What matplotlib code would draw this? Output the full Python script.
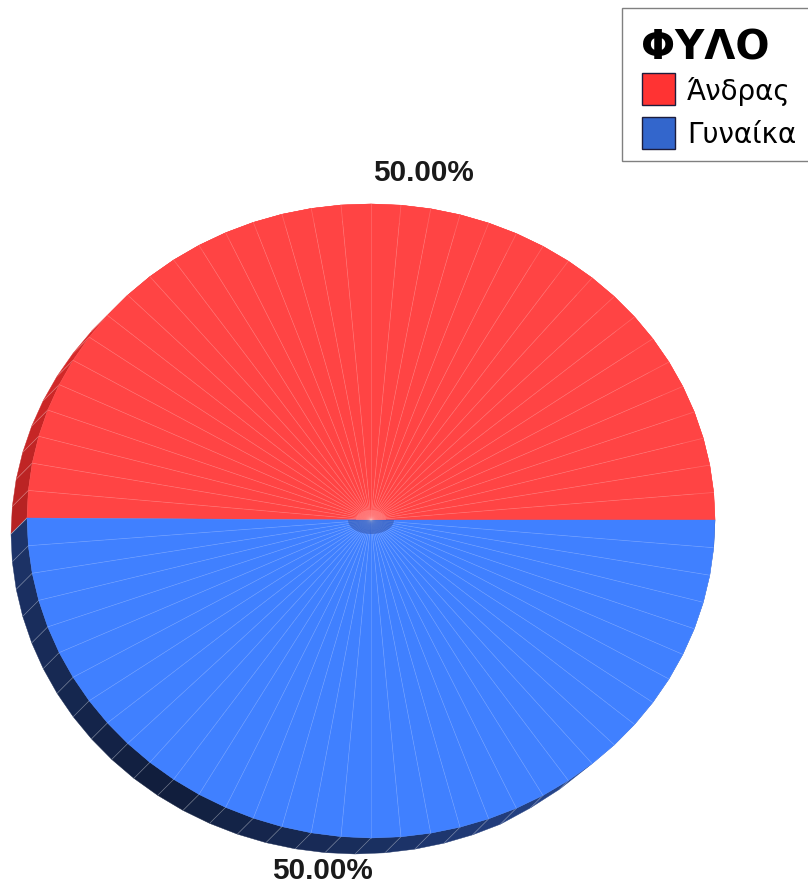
import matplotlib
matplotlib.use("Agg")
import matplotlib.pyplot as plt
import numpy as np
from matplotlib.patches import Polygon, Rectangle, Ellipse

# data
labels = ["Άνδρας", "Γυναίκα"]
shares = [50.0, 50.0]
legend_title = "ΦΥΛΟ"

top_colors = ["#ff4444", "#4080ff"]
swatch_colors = ["#ff3333", "#3366cc"]

# pie geometry, in pixels
cx, cy = 371, 520
rx, ry_up, ry_down = 344, 316, 318
depth_x, depth_y = -16, 16
facet_deg = 5


def rim(theta):
    rad = np.radians(theta)
    ry = ry_up if np.sin(rad) >= 0 else ry_down
    x = cx + rx * np.cos(rad)
    y = cy - ry * np.sin(rad)
    # the left half leans up a little
    return x, y - 2 * max(0, cx - x) / rx


def wall_depth(theta):
    # the wall thins out to nothing on the lower right
    return np.interp(theta % 360, [295, 305, 310], [1.0, 0.55, 0.0], right=0.0)


def wall_shade(theta):
    # facets turned towards the lower left are darkest
    a = theta % 360
    return np.interp(a, [90, 180, 235, 270, 310], [0.70, 0.46, 0.25, 0.40, 0.62])


def darker(color, k):
    r, g, b = matplotlib.colors.to_rgb(color)
    if r > b:
        return (min(1, r * k * 1.53), g * k * 1.1, b * k * 1.1)
    return (r * k, g * k * 0.9, b * k * 0.92)


fig = plt.figure(figsize=(8.08, 8.88), dpi=100)
ax = fig.add_axes([0, 0, 1, 1])
ax.set_xlim(0, 808)
ax.set_ylim(888, 0)
ax.axis("off")

# slices run clockwise from the left edge
total = sum(shares)
start = 180.0
slices = []
for share, color in zip(shares, top_colors):
    sweep = 360.0 * share / total
    angles = np.arange(start, start - sweep - 0.01, -facet_deg)
    slices.append((angles, color))
    start -= sweep

# side wall first, the top covers most of it
for angles, color in slices:
    for a0, a1 in zip(angles[:-1], angles[1:]):
        x0, y0 = rim(a0)
        x1, y1 = rim(a1)
        d0, d1 = wall_depth(a0), wall_depth(a1)
        quad = [(x0, y0), (x1, y1), (x1 + d1 * depth_x, y1 + d1 * depth_y), (x0 + d0 * depth_x, y0 + d0 * depth_y)]
        shade = darker(color, wall_shade((a0 + a1) / 2))
        ax.add_patch(Polygon(quad, closed=True, facecolor=shade, edgecolor=shade, linewidth=0.3, zorder=1))
    for a in angles:
        x0, y0 = rim(a)
        d = wall_depth(a)
        ax.plot([x0, x0 + d * depth_x], [y0, y0 + d * depth_y], color="white", alpha=0.35, linewidth=0.5, zorder=2)

# top face
for angles, color in slices:
    for a0, a1 in zip(angles[:-1], angles[1:]):
        tri = [(cx, cy), rim(a0), rim(a1)]
        ax.add_patch(Polygon(tri, closed=True, facecolor=color, edgecolor=color, linewidth=0.3, zorder=3))

# spokes between facets
for angles, color in slices:
    for a in angles[1:-1]:
        x0, y0 = rim(a)
        ax.plot([cx, x0], [cy, y0], color="white", alpha=0.2, linewidth=0.5, zorder=4)

# the spokes bunch up around the centre
glow = Ellipse((cx, cy), 30, 20, facecolor="#ff8080", edgecolor="none", alpha=0.6, zorder=5)
ax.add_patch(glow)
glow.set_clip_path(Rectangle((cx - 40, cy - 20), 80, 20, transform=ax.transData))
shadow = Ellipse((cx, cy), 46, 28, facecolor="#3558b0", edgecolor="none", alpha=0.6, zorder=5)
ax.add_patch(shadow)
shadow.set_clip_path(Rectangle((cx - 40, cy), 80, 20, transform=ax.transData))

# percentage labels
label_pos = [(423, 173), (322, 871)]
for (lx, ly), share in zip(label_pos, shares):
    ax.text(lx, ly, f"{share:.2f}%", ha="center", va="center", fontsize=21.3,
            fontweight="bold", family="Liberation Sans", color="#1a1a1a", zorder=6)

# legend
ax.add_patch(Rectangle((621.5, 8.5), 190, 153, facecolor="white", edgecolor="#808080", linewidth=1.0, zorder=6))
ax.text(641, 49, legend_title, ha="left", va="center", fontsize=29, fontweight="bold",
        family="DejaVu Sans", color="black", zorder=7)
swatch_y = [73, 117]
for y, name, color in zip(swatch_y, labels, swatch_colors):
    ax.add_patch(Rectangle((641.5, y + 0.5), 33, 32, facecolor=color, edgecolor="#1c1c3c", linewidth=1.0, zorder=7))
    ax.text(687, y + 18, name, ha="left", va="center", fontsize=20, family="DejaVu Sans",
            color="black", zorder=7)

fig.savefig("out.png", dpi=100)
